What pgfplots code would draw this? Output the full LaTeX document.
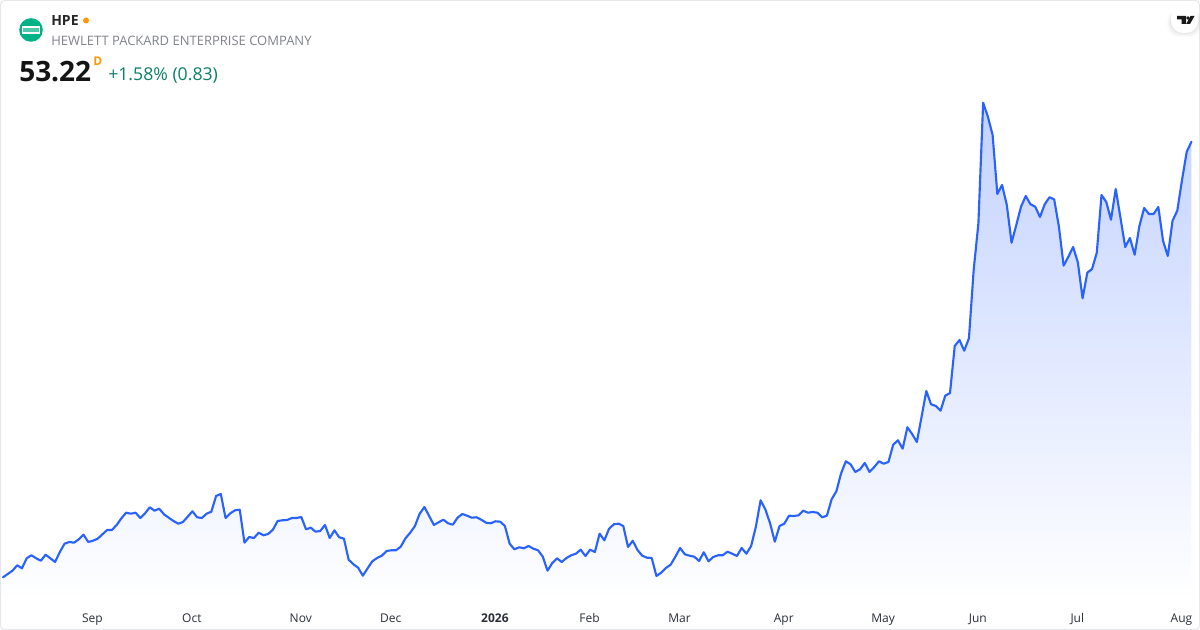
\documentclass[border=0pt]{standalone}
\usepackage{pgfplots}
\usepackage{pgfplotstable}
\usepackage{fontspec}
\setmainfont{Open Sans}
\pgfplotsset{compat=1.18}
\definecolor{tvblue}{HTML}{2962FF}
\definecolor{filltop}{HTML}{C3D2FF}
\definecolor{fillbot}{HTML}{FFFFFF}
\definecolor{framec}{HTML}{E6E7EA}
\definecolor{subc}{HTML}{808389}
\definecolor{tickc}{HTML}{2A2E39}
\definecolor{upc}{HTML}{0B8069}
\definecolor{dotc}{HTML}{FF9800}
\definecolor{logoc}{HTML}{01B287}
% day index, line height above the bottom edge of the picture (px)
\pgfplotstableread{
i h
0 52.7
1 56
2 59.3
3 64.7
4 61.7
5 71.7
6 74.7
7 71.7
8 69.3
9 75.3
10 71.7
11 68
12 78
13 86.3
14 88
15 87.3
16 90.7
17 95.3
18 88
19 89.3
20 91.3
21 95.7
22 100
23 100
24 105
25 111.7
26 117.3
27 116.3
28 117.3
29 112
30 116.7
31 122.7
32 119.3
33 121.3
34 115.7
35 112.3
36 109
37 106.3
38 108
39 113.3
40 118.7
41 112.7
42 112
43 116.3
44 118.3
45 134
46 136
47 112
48 116.7
49 119.7
50 120.3
51 87.3
52 93
53 92
54 97.3
55 94.7
56 96
57 100.3
58 109
59 109.7
60 110
61 112
62 112
63 113
64 100.7
65 102.3
66 98.3
67 99
68 105
69 92
70 99.7
71 92.7
72 91.3
73 70.3
74 65.7
75 62.3
76 54.3
77 61.7
78 68.7
79 72
80 74.3
81 79
82 79.7
83 79.7
84 83.3
85 91.7
86 97.3
87 104
88 116.3
89 123
90 114
91 105
92 107.7
93 110.3
94 106.7
95 105.3
96 112.3
97 116
98 114.3
99 112.3
100 112.7
101 110.3
102 107.3
103 106.7
104 108.7
105 108.3
106 104
107 86.3
108 80.7
109 82.7
110 81.7
111 84
112 81.3
113 79.7
114 73.3
115 59.3
116 67
117 71.7
118 68
119 72
120 74.7
121 76.3
122 80.3
123 74
124 80.3
125 78
126 96.3
127 89.7
128 101.3
129 105.7
130 106.3
131 104
132 83
133 89.3
134 80
135 74.3
136 72.3
137 72
138 54
139 57.3
140 62
141 65.3
142 73.3
143 82
144 75.7
145 74.3
146 73.3
147 69
148 77.7
149 68.7
150 73
151 74.7
152 74.7
153 78.3
154 76.3
155 74
156 82
157 76.3
158 84
159 103.3
160 129.7
161 120.7
162 106.7
163 88.3
164 104
165 106.3
166 114.3
167 114
168 114.7
169 119.3
170 117.3
171 118
172 117.3
173 112.7
174 114.3
175 130.7
176 138.7
177 156.7
178 168.7
179 165.7
180 158
181 160.7
182 167
183 158
184 163
185 168.7
186 166.3
187 168
188 185.3
189 189.7
190 181.3
191 202.7
192 196
193 188
194 213.3
195 239
196 225.7
197 224
198 219.3
199 234.3
200 237
201 284
202 290
203 279.3
204 291.7
205 360
206 406.7
207 527.3
208 513.3
209 495
210 436
211 445
212 425
213 387.3
214 405
215 423.3
216 434
217 425.7
218 423.3
219 413
220 425.7
221 432.7
222 430.7
223 403.3
224 364.3
225 373.3
226 383
227 367.7
228 331.7
229 357.3
230 361
231 377.3
232 435
233 428
234 410.3
235 441
236 412.3
237 383
238 392
239 375.3
240 404
241 422
242 416
243 416
244 423
245 389
246 374
247 409.3
248 419.3
249 450
250 478.3
251 488.3
}\pricetable
\begin{document}
\begin{tikzpicture}
\begin{axis}[
  at={(0,0)},anchor=south west,
  scale only axis,width=900pt,height=451.5pt,
  xmin=-0.634,xmax=252.8,ymin=28,ymax=630,
  axis line style={draw=none},
  tick style={draw=none},
  ytick=\empty,
  xtick={19,40,63,82,104,124,143,165,186,206,227,249},
  xticklabels={Sep,Oct,Nov,Dec,\textbf{2026},Feb,Mar,Apr,May,Jun,Jul,Aug},
  xticklabel style={font=\fontsize{9}{11}\selectfont,text=tickc,yshift=-5.3pt,xshift=-0.4pt},
  clip=true,
]
\addplot[draw=none,top color=filltop,bottom color=fillbot] table[x=i,y=h] {\pricetable} \closedcycle;
\addplot[tvblue,line width=1.6pt,line join=round,line cap=round,no marks] table[x=i,y=h] {\pricetable};
\end{axis}
\begin{scope}[shift={(0,451.5pt)},x=0.75pt,y=-0.75pt]
\draw[framec,line width=0.75pt,rounded corners=3pt] (0.5,0.5) rectangle (1199.5,629.5);
% header
\fill[logoc] (31,30) circle (11.8);
\draw[white,line width=1pt,fill=logoc!70!white] (22.2,27) rectangle (39.8,33);
\node[anchor=base west,inner sep=0,font=\fontsize{10.5}{12}\bfseries\selectfont,text=black!85] at (51,26) {HPE};
\fill[dotc] (86,20.5) circle (3);
\node[anchor=base west,inner sep=0,font=\fontsize{9.75}{12}\selectfont,text=subc] at (51,45.5) {HEWLETT PACKARD ENTERPRISE COMPANY};
\node[anchor=base west,inner sep=0,font=\fontsize{21}{24}\bfseries\selectfont,text=black!92] at (19,82) {53.22};
\node[anchor=base west,inner sep=0,font=\fontsize{9}{10}\bfseries\selectfont,text=dotc] at (93,66) {D};
\node[anchor=base west,inner sep=0,font=\fontsize{13.25}{16}\selectfont,text=upc] at (108,81) {+1.58\% (0.83)};
% logo button
\foreach \d/\o in {4/0.015,3/0.02,2/0.025,1/0.03}{
  \fill[black,opacity=\o,rounded corners=9pt] (1171-\d,10) rectangle (1198+\d,33+\d);
}
\fill[white,rounded corners=9pt] (1171,6) rectangle (1198,33);
\fill[black!90] (1177,16) -- (1186,16) -- (1186,24) -- (1181.5,24) -- (1181.5,19.5) -- (1177,19.5) -- cycle;
\fill[black!90] (1188,18) circle (1.8);
\fill[black!90] (1190.5,16) -- (1194.5,16) -- (1190,24) -- (1186.2,24) -- cycle;
\pgfresetboundingbox
\path[use as bounding box] (0,0) rectangle (1200,630);
\end{scope}
\end{tikzpicture}
\end{document}
